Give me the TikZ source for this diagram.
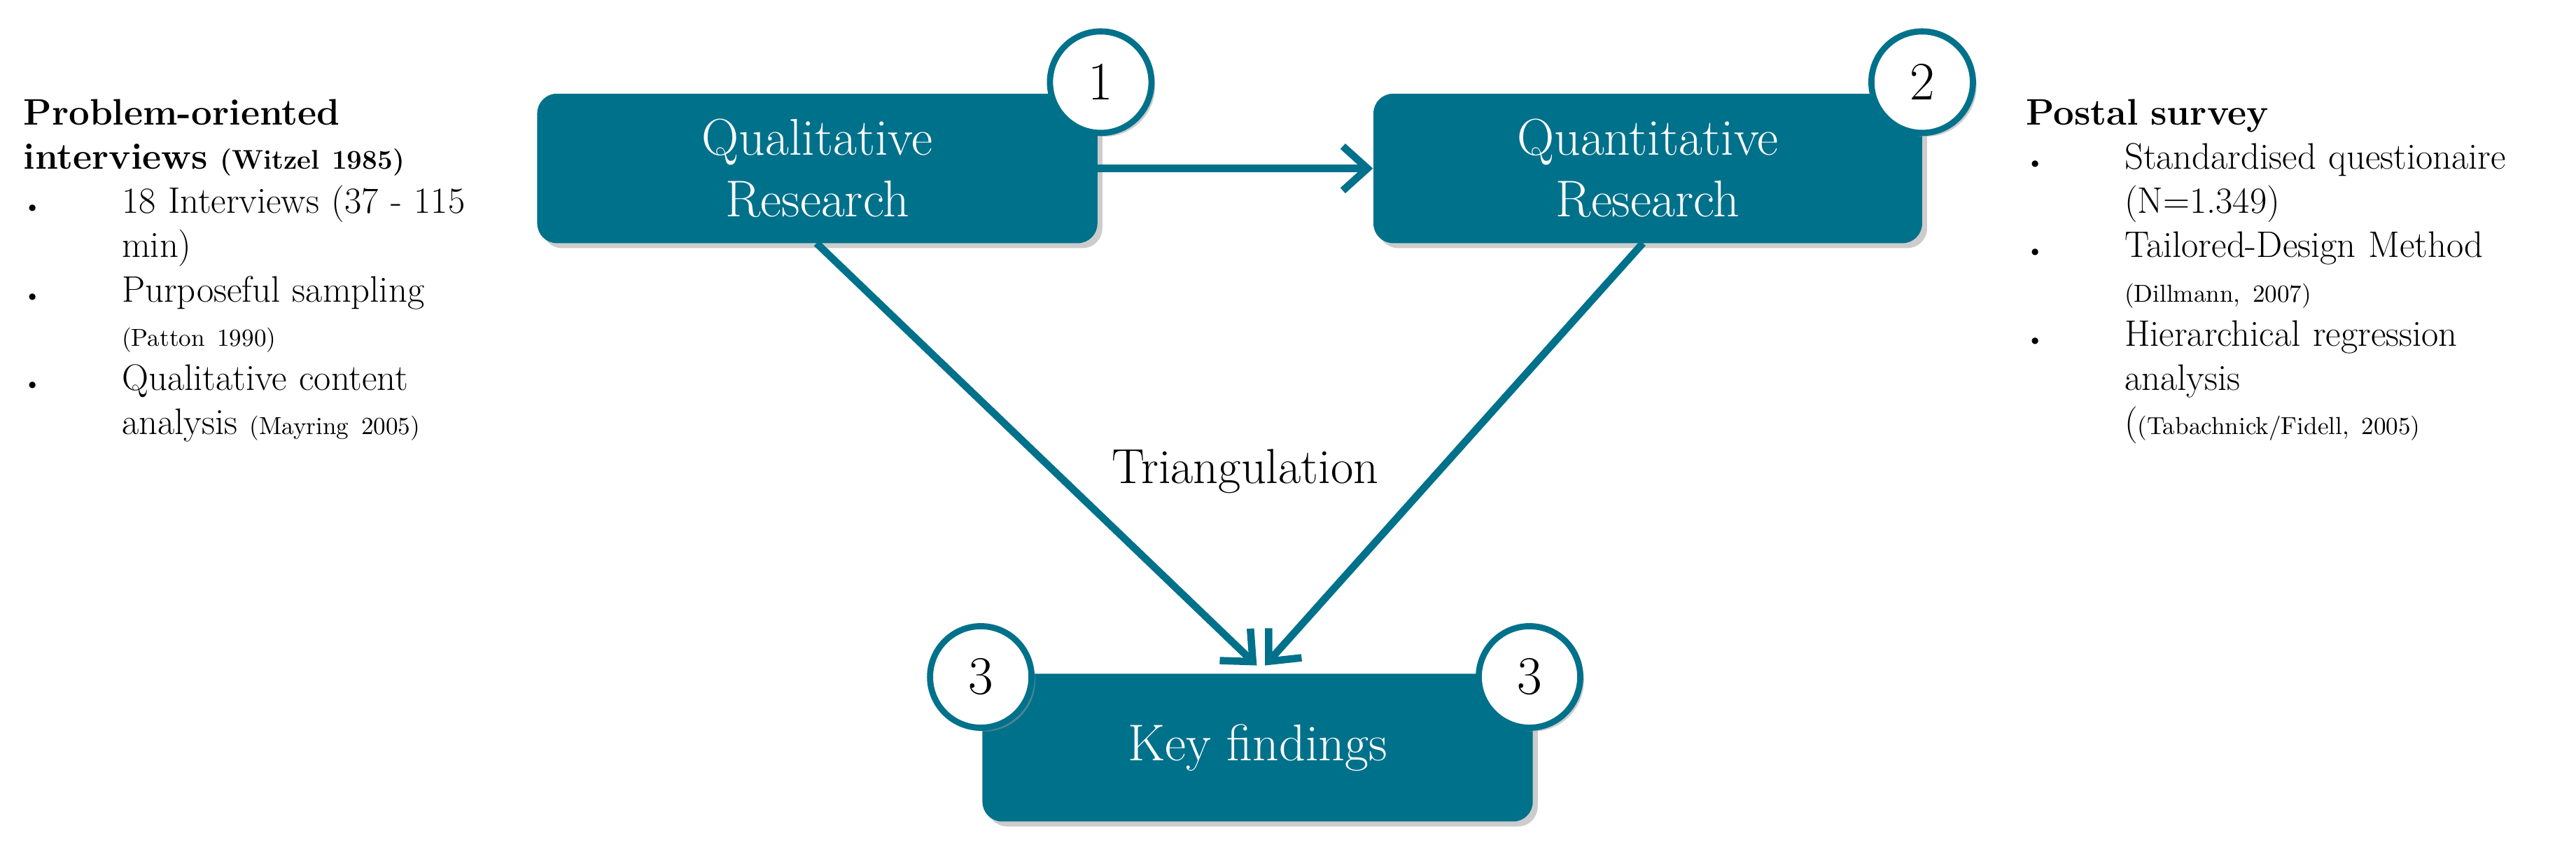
\documentclass[tikz,border=0pt]{standalone}
\usepackage{enumitem}
\usetikzlibrary{shadows,arrows.meta}
\definecolor{teal1}{HTML}{00718B}
\begin{document}
\begin{tikzpicture}[x=0.02347cm,y=-0.02347cm,
 box/.style={draw=none,fill=teal1,rounded corners=8pt,text=white,font=\fontsize{21}{25}\selectfont,align=center,
   drop shadow={shadow xshift=2pt,shadow yshift=-2pt,fill=black!40}},
 num/.style={circle,draw=teal1,line width=2.5pt,fill=white,minimum size=1.45cm,inner sep=0pt,font=\fontsize{22}{26}\selectfont,
   drop shadow={shadow xshift=1.5pt,shadow yshift=-1.5pt,fill=black!40}},
 con/.style={draw=teal1,line width=3pt},
 txt/.style={anchor=north west,inner sep=0pt,text width=6.6cm,align=left,font=\fontsize{15}{18}\selectfont}]
\useasboundingbox (0,0) rectangle (1568,527);
\node[box,minimum width=341*0.02347cm,minimum height=91*0.02347cm] (qual) at (497.5,102.5) {Qualitative\\Research};
\node[box,minimum width=334*0.02347cm,minimum height=91*0.02347cm] (quan) at (1003,102.5) {Quantitative\\Research};
\node[box,minimum width=335*0.02347cm,minimum height=90*0.02347cm] (key) at (765.5,455) {Key findings};
\node[num] (n1) at (670,50) {1};
\node[num] (n2) at (1170,50) {2};
\node[num] (n3a) at (597,412) {3};
\node[num] (n3b) at (931,412) {3};
\coordinate (qa) at (497,148);
\coordinate (qb) at (1000,148);
\coordinate (ka) at (765,405);
\coordinate (kb) at (770,405);
\draw[con,-{Straight Barb[length=10pt,width=18pt]}] (qual.east) -- (quan.west);
\draw[con,-{Straight Barb[length=10pt,width=18pt]}] (qa) -- (ka);
\draw[con,-{Straight Barb[length=10pt,width=18pt]}] (qb) -- (kb);
\node[font=\fontsize{20}{24}\selectfont] (tri) at (758,287) {Triangulation};
\node[txt] (left) at (14,60) {\textbf{Problem-oriented\\interviews {\fontsize{11}{13}\selectfont(Witzel 1985)}}
\begin{itemize}[leftmargin=40pt,labelsep=*,align=left,labelwidth=40pt,itemsep=0pt,topsep=0pt,parsep=0pt,label={\small\textbullet}]
\item 18 Interviews (37 - 115 min)
\item Purposeful sampling\\{\fontsize{10}{13}\selectfont(Patton 1990)}
\item Qualitative content analysis {\fontsize{10}{13}\selectfont(Mayring 2005)}
\end{itemize}};
\node[txt,text width=7.5cm] (right) at (1233,60) {\textbf{Postal survey}
\begin{itemize}[leftmargin=40pt,labelsep=*,align=left,labelwidth=40pt,itemsep=0pt,topsep=0pt,parsep=0pt,label={\small\textbullet}]
\item Standardised questionaire (N=1.349)
\item Tailored-Design Method\\{\fontsize{10}{13}\selectfont(Dillmann, 2007)}
\item Hierarchical regression analysis\\({\fontsize{10}{13}\selectfont(Tabachnick/Fidell, 2005)}
\end{itemize}};
\end{tikzpicture}
\end{document}
